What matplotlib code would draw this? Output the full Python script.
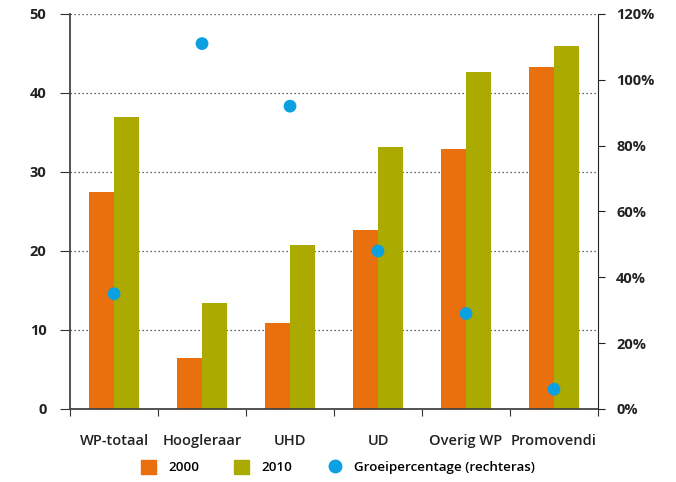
import matplotlib
matplotlib.use("Agg")
import matplotlib.pyplot as plt
import numpy as np
from matplotlib.lines import Line2D
from matplotlib.patches import Patch

categories = ["WP-totaal", "Hoogleraar", "UHD", "UD", "Overig WP", "Promovendi"]
values_2000 = [27.5, 6.5, 10.9, 22.6, 32.9, 43.3]
values_2010 = [37.0, 13.4, 20.7, 33.2, 42.7, 46.0]
growth_pct = [35, 111, 92, 48, 29, 6]
left_ticks = [0, 10, 20, 30, 40, 50]
right_ticks = [0, 20, 40, 60, 80, 100, 120]

c2000 = "#EA700D"
c2010 = "#ABAA00"
cdot = "#0BA0E0"

plt.rcParams['font.family'] = ['Open Sans', 'DejaVu Sans']

fig = plt.figure(figsize=(6.76, 4.82), dpi=100)
ax = fig.add_axes([0.1036, 0.1515, 0.7810, 0.8195])
x = np.arange(len(categories))
w = 0.28
ax.bar(x - w / 2, values_2000, width=w, color=c2000, zorder=2, label="2000")
ax.bar(x + w / 2, values_2010, width=w, color=c2010, zorder=2, label="2010")
ax.set_xlim(-0.5, len(categories) - 0.5)
ax.set_ylim(0, 50)
ax.set_yticks(left_ticks)
ax.set_yticklabels([str(t) for t in left_ticks], fontsize=10.5, fontweight='bold', color='#222222')
for t in left_ticks[1:]:
    ax.axhline(t, color='#333333', lw=0.9, ls=(0, (1, 2.2)), zorder=1)
ax.set_xticks(np.arange(len(categories) + 1) - 0.5)
ax.set_xticklabels([])
ax.set_xticks(x, minor=True)
ax.set_xticklabels(categories, minor=True, fontsize=10.5, fontweight='semibold', color='#222222')
ax.tick_params(axis='x', which='minor', length=0, pad=18)
ax.tick_params(axis='x', which='major', length=5, direction='out', color='#333333')
ax.tick_params(axis='y', length=7, direction='out', color='#333333', pad=10)
ax.spines['top'].set_visible(False)
ax.spines['right'].set_visible(False)
for s in ['left', 'bottom']:
    ax.spines[s].set_color('#444444')
    ax.spines[s].set_linewidth(1.3)

ax2 = ax.twinx()
ax2.set_ylim(0, 120)
ax2.scatter(x, growth_pct, s=85, color=cdot, zorder=5, edgecolors='none')
ax2.set_yticks(right_ticks)
ax2.set_yticklabels([f"{t}%" for t in right_ticks], fontsize=10.5, fontweight='bold', color='#222222')
ax2.tick_params(axis='y', length=5, direction='out', color='#222222', pad=8)
ax2.spines['top'].set_visible(False)
ax2.spines['left'].set_visible(False)
ax2.spines['bottom'].set_visible(False)
ax2.spines['right'].set_color('#222222')

handles = [Patch(color=c2000, label="2000"), Patch(color=c2010, label="2010"),
           Line2D([], [], marker='o', ls='none', color=cdot, markersize=9, label="Groeipercentage (rechteras)")]
fig.legend(handles=handles, loc='center', bbox_to_anchor=(0.5, 0.031), ncol=3, frameon=False,
           handlelength=1.15, handleheight=1.25, columnspacing=2.6, handletextpad=0.9,
           prop={'weight': 'semibold', 'size': 9.6})

fig.savefig("out.png", dpi=100)
